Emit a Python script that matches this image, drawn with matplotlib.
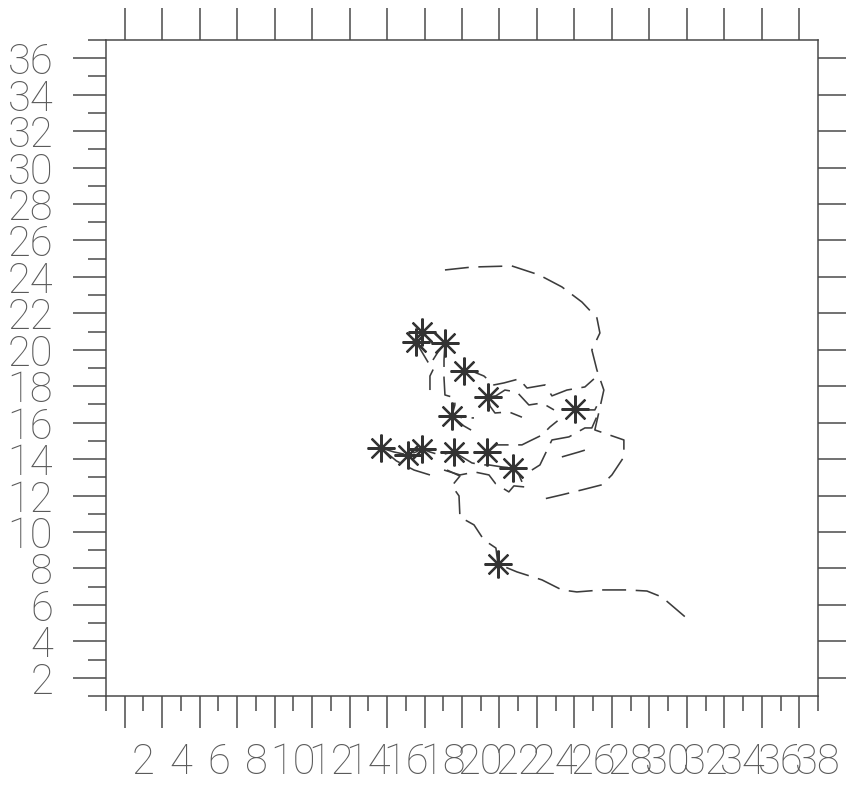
import matplotlib
matplotlib.use("Agg")
import matplotlib.pyplot as plt
import numpy as np

plt.rcParams['font.family'] = ['Roboto', 'Liberation Sans', 'DejaVu Sans']

# storm tracks, grid units (x, y)
tracks = [
    [(16.86, 20.98), (17.50, 20.92), (18.09, 20.37), (17.72, 19.88), (17.45, 19.44)],
    [(16.54, 20.43), (16.86, 19.88), (17.18, 19.33), (17.50, 19.00), (17.29, 18.56), (17.29, 17.79)],
    [(18.09, 20.37), (18.04, 19.44), (18.04, 18.45), (18.09, 17.52), (18.62, 17.36), (18.62, 16.97),
     (18.46, 16.37), (19.10, 16.26), (19.64, 16.26)],
    [(18.46, 16.37), (19.10, 15.82), (19.85, 15.38)],
    [(19.10, 18.84), (19.64, 18.78), (20.17, 18.56), (20.70, 18.07), (21.24, 18.18), (22.04, 18.40),
     (22.47, 17.90), (23.43, 18.07), (23.80, 17.47), (24.60, 17.79), (25.56, 17.96), (26.04, 18.40)],
    [(20.38, 17.41), (20.81, 17.47), (21.29, 17.79), (21.93, 17.68), (22.57, 16.97), (23.27, 17.08),
     (23.91, 16.70)],
    [(20.38, 17.41), (20.50, 16.90), (20.76, 16.53), (21.50, 16.59), (22.20, 16.30)],
    [(25.03, 16.75), (25.56, 16.70), (26.09, 16.70), (26.36, 17.25)],
    [(14.67, 14.61), (15.37, 14.39), (16.12, 14.23), (16.54, 14.39), (16.86, 14.56), (17.29, 14.39),
     (17.82, 14.23), (18.57, 14.39)],
    [(18.57, 14.39), (19.00, 14.12), (19.53, 13.79), (20.06, 13.68), (20.44, 13.68), (21.13, 13.57),
     (21.72, 13.51), (22.04, 13.13), (22.20, 12.75)],
    [(20.33, 14.39), (20.86, 14.78), (21.82, 14.78), (22.20, 14.78), (22.63, 15.00), (23.27, 15.32),
     (23.69, 15.76), (24.10, 16.10)],
    [(14.67, 14.61), (15.50, 13.90), (16.44, 13.40), (17.29, 13.13)],
    [(18.04, 13.40), (18.89, 13.13), (19.69, 13.29), (20.44, 13.13), (20.80, 12.64), (21.50, 12.20),
     (21.77, 12.53), (22.36, 12.47)],
    [(22.73, 13.40), (23.16, 13.68), (23.80, 15.05), (24.71, 15.22), (25.56, 15.71), (25.93, 15.71),
     (26.31, 16.59)],
    [(24.33, 14.12), (25.24, 14.39), (25.90, 14.60)],
    [(18.20, 13.40), (18.89, 13.07), (18.46, 12.53), (18.84, 11.98), (18.89, 10.82), (19.64, 10.39),
     (20.17, 9.56), (20.81, 9.12), (20.92, 8.24), (21.93, 7.81), (23.27, 7.37), (24.33, 6.82),
     (25.13, 6.71), (26.47, 6.82), (27.80, 6.82), (28.87, 6.76), (29.67, 6.43), (31.16, 5.12)],
    [(18.09, 24.38), (19.53, 24.54), (21.66, 24.60), (23.11, 24.11), (24.33, 23.45), (25.40, 22.62),
     (26.20, 21.75), (26.36, 20.92), (25.93, 19.99), (26.20, 18.89), (26.57, 17.79), (26.31, 16.59),
     (26.09, 15.60), (27.64, 15.05), (27.64, 14.12), (27.00, 13.13), (26.47, 12.59), (25.40, 12.31),
     (24.33, 12.04), (23.16, 11.76)],
]

# genesis points
star_x = [16.86, 16.54, 18.09, 19.10, 20.38, 18.46, 25.03, 14.67, 16.12, 16.86, 18.57, 20.33, 21.72, 20.92]
star_y = [20.98, 20.43, 20.37, 18.84, 17.41, 16.37, 16.75, 14.61, 14.23, 14.56, 14.39, 14.39, 13.51, 8.24]

xlabels = list(range(2, 39, 2))
ylabels = list(range(2, 37, 2))

ink = "#4a4a4a"

fig = plt.figure(figsize=(8.46, 7.89), dpi=100)
ax = fig.add_axes([0.1253, 0.1179, 0.8416, 0.8314])
ax.set_xlim(0, 38)
ax.set_ylim(1, 37)

for tr in tracks:
    xs, ys = zip(*tr)
    ax.plot(xs, ys, color="#3c3c3c", lw=1.15, dashes=[15, 6], solid_capstyle="butt")

ax.plot(star_x, star_y, ls="none", marker=(8, 2, 0), ms=20, mew=1.6, color="#333333")

for s in ax.spines.values():
    s.set_color(ink)
    s.set_linewidth(1.1)

# x: labelled even ticks short, odd ticks long (odd ones mirrored on top)
ax.set_xticks(list(range(0, 39, 2)))
ax.set_xticklabels([""] + [str(v) for v in xlabels], fontweight="light")
ax.set_xticks(list(range(1, 38, 2)), minor=True)

# y: labelled even ticks long, odd ticks short
ax.set_yticks(ylabels)
ax.set_yticklabels([str(v) for v in ylabels], fontweight="light")
ax.set_yticks(list(range(1, 38, 2)), minor=True)

ax.tick_params(axis="x", which="major", direction="out", length=11, width=1.1, color=ink,
               bottom=True, top=False, pad=22, labelsize=30, labelcolor="#5a5a5a")
ax.tick_params(axis="x", which="minor", direction="out", length=23, width=1.1, color=ink,
               bottom=True, top=True)
ax.tick_params(axis="y", which="major", direction="out", length=24, width=1.1, color=ink,
               left=True, right=True, pad=14, labelsize=30, labelcolor="#5a5a5a")
ax.tick_params(axis="y", which="minor", direction="out", length=13, width=1.1, color=ink,
               left=True, right=False)

fig.savefig("out.png", dpi=100, facecolor="white")
